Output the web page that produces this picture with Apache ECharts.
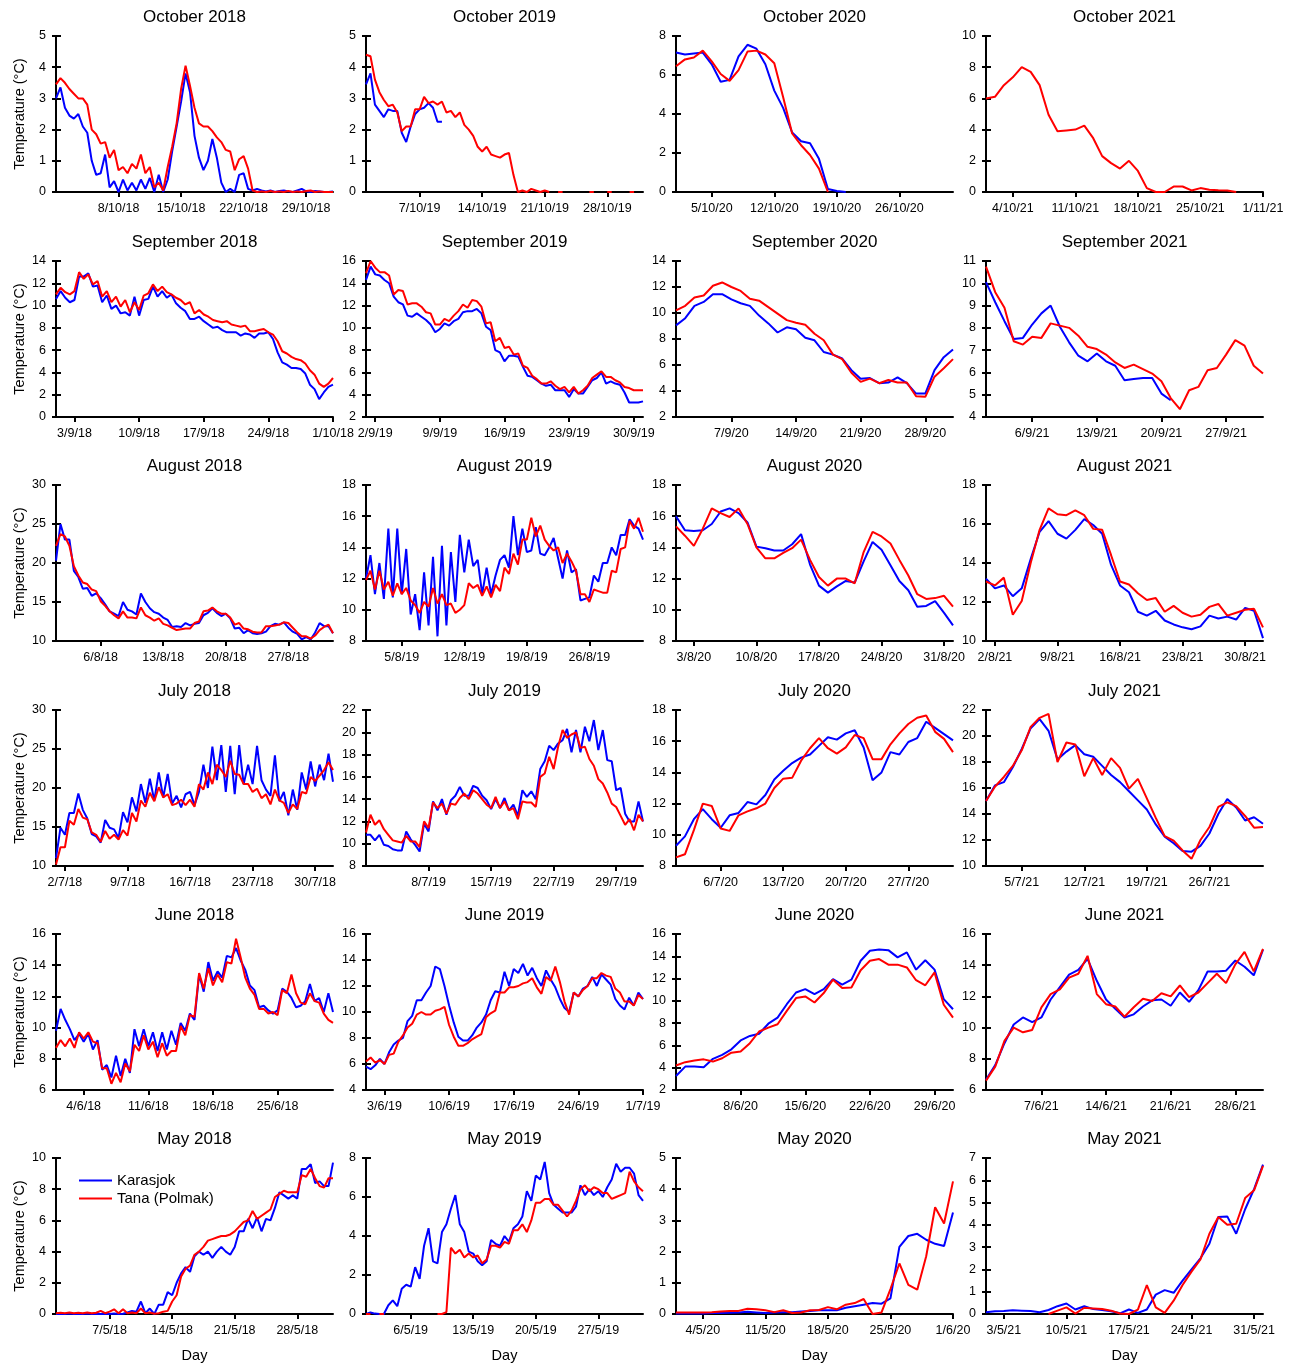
<!DOCTYPE html>
<html>
<head>
<meta charset="utf-8">
<script src="https://cdn.jsdelivr.net/npm/echarts@6/dist/echarts.min.js"></script>
<style>
  html, body { margin: 0; padding: 0; background: #fff; }
  #chart { width: 1290px; height: 1367px; }
</style>
</head>
<body>
<div id="chart"></div>
<script>
// Water temperature (°C), Karasjok and Tana (Polmak).
// 2018/2019 series are sampled every half day, 2020/2021 series once a day.

// ---- October ----
const oct2018Ticks = ['8/10/18', '15/10/18', '22/10/18', '29/10/18'];
const oct2018Karasjok = [3.0, 3.35, 2.7, 2.45, 2.35, 2.5, 2.1, 1.9, 1.0, 0.55, 0.6, 1.2, 0.15, 0.35, 0.0, 0.4, 0.05, 0.3, 0.05, 0.4, 0.1, 0.45, 0.0, 0.55, 0.0, 0.4, 1.3, 2.1, 2.9, 3.8, 3.2, 1.8, 1.1, 0.7, 1.0, 1.7, 1.1, 0.3, 0.0, 0.1, 0.0, 0.55, 0.6, 0.1, 0.05, 0.1, 0.05, 0.02, 0.05, 0.0, 0.03, 0.05, 0.02, 0.0, 0.05, 0.1, 0.02, 0.0, 0.03, 0.02, 0.0, 0.0, 0.02];
const oct2018Tana = [3.45, 3.65, 3.5, 3.3, 3.15, 3.0, 3.0, 2.8, 2.0, 1.85, 1.55, 1.6, 1.1, 1.35, 0.7, 0.8, 0.6, 0.9, 0.75, 1.2, 0.6, 0.8, 0.15, 0.3, 0.05, 0.8, 1.45, 2.2, 3.3, 4.05, 3.4, 2.7, 2.2, 2.1, 2.1, 1.95, 1.75, 1.6, 1.35, 1.3, 0.7, 1.05, 1.15, 0.75, 0.05, 0.0, 0.02, 0.0, 0.03, 0.0, 0.02, 0.0, 0.03, 0.0, 0.02, 0.0, 0.03, 0.05, 0.0, 0.02, 0.0, 0.0, 0.0];

const oct2019Ticks = ['7/10/19', '14/10/19', '21/10/19', '28/10/19'];
const oct2019Karasjok = [3.45, 3.8, 2.8, 2.6, 2.4, 2.65, 2.6, 2.6, 1.9, 1.6, 2.1, 2.5, 2.65, 2.7, 2.85, 2.7, 2.25, 2.25];
const oct2019Tana = [4.4, 4.35, 3.6, 3.2, 2.95, 2.75, 2.8, 2.55, 1.95, 2.1, 2.1, 2.65, 2.65, 3.05, 2.85, 2.9, 2.8, 2.9, 2.55, 2.6, 2.4, 2.55, 2.15, 2.0, 1.8, 1.45, 1.3, 1.45, 1.2, 1.15, 1.1, 1.2, 1.25, 0.55, 0.0, 0.05, 0.0, 0.1, 0.05, 0.0, 0.05, 0.0, null, 0.0, 0.0, null, null, null, null, null, 0.0, 0.0, null, null, 0.0, 0.0, null, null, null, 0.0, 0.0, null, null];

const oct2020Ticks = ['5/10/20', '12/10/20', '19/10/20', '26/10/20'];
const oct2020Karasjok = [7.15, 7.05, 7.1, 7.15, 6.55, 5.65, 5.75, 6.95, 7.55, 7.35, 6.55, 5.2, 4.3, 3.05, 2.6, 2.5, 1.7, 0.15, 0.05, 0.0];
const oct2020Tana = [6.45, 6.8, 6.9, 7.25, 6.7, 6.05, 5.7, 6.25, 7.2, 7.25, 7.05, 6.6, 4.85, 3.0, 2.4, 1.9, 1.2, 0.0];

const oct2021Ticks = ['4/10/21', '11/10/21', '18/10/21', '25/10/21', '1/11/21'];
const oct2021Karasjok = [];
const oct2021Tana = [6.0, 6.1, 6.85, 7.35, 8.0, 7.7, 6.85, 4.95, 3.9, 3.95, 4.0, 4.25, 3.45, 2.3, 1.85, 1.5, 2.0, 1.35, 0.25, 0.0, 0.0, 0.35, 0.35, 0.1, 0.25, 0.15, 0.12, 0.1, 0.0];

// ---- September ----
const sep2018Ticks = ['3/9/18', '10/9/18', '17/9/18', '24/9/18', '1/10/18'];
const sep2018Karasjok = [10.6, 11.3, 10.7, 10.3, 10.5, 12.6, 12.6, 12.9, 11.7, 11.8, 10.3, 10.9, 9.7, 10.0, 9.3, 9.4, 9.1, 10.8, 9.1, 10.5, 10.6, 11.7, 10.8, 11.3, 10.7, 11.0, 10.2, 9.8, 9.5, 8.8, 8.8, 9.0, 8.6, 8.3, 8.0, 8.1, 7.8, 7.6, 7.6, 7.6, 7.3, 7.5, 7.4, 7.1, 7.5, 7.5, 7.6, 7.0, 5.8, 4.9, 4.7, 4.4, 4.4, 4.3, 3.9, 2.9, 2.5, 1.6, 2.2, 2.7, 2.9];
const sep2018Tana = [11.0, 11.6, 11.2, 11.0, 11.3, 13.0, 12.4, 12.8, 11.9, 12.2, 10.8, 11.3, 10.3, 10.8, 9.9, 10.5, 9.4, 10.3, 9.6, 10.9, 11.1, 11.9, 11.3, 11.7, 11.2, 11.0, 10.7, 10.5, 10.1, 10.3, 9.3, 9.6, 9.2, 9.0, 8.7, 8.6, 8.5, 8.6, 8.3, 8.2, 8.1, 8.2, 7.7, 7.7, 7.8, 7.9, 7.6, 7.4, 6.8, 5.9, 5.7, 5.4, 5.2, 5.1, 4.8, 4.2, 3.8, 3.0, 2.7, 3.0, 3.5];

const sep2019Ticks = ['2/9/19', '9/9/19', '16/9/19', '23/9/19', '30/9/19'];
const sep2019Karasjok = [14.3, 15.5, 14.8, 14.7, 14.3, 14.0, 12.8, 12.3, 12.1, 11.1, 11.0, 11.3, 11.0, 10.7, 10.3, 9.6, 9.9, 10.4, 10.2, 10.6, 10.8, 11.4, 11.5, 11.5, 11.7, 11.3, 10.1, 9.8, 8.0, 7.8, 7.0, 7.5, 7.5, 7.4, 6.5, 5.7, 5.6, 5.3, 5.0, 4.8, 4.9, 4.4, 4.4, 4.4, 3.8, 4.5, 4.1, 4.1, 4.7, 5.3, 5.5, 6.0, 5.0, 5.2, 5.0, 4.9, 4.2, 3.3, 3.3, 3.3, 3.4];
const sep2019Tana = [14.9, 16.0, 15.4, 15.0, 15.0, 14.7, 13.0, 13.4, 13.3, 12.1, 12.2, 12.2, 11.9, 11.4, 11.3, 10.3, 10.3, 10.8, 10.6, 11.1, 11.5, 12.1, 11.8, 12.5, 12.4, 11.9, 10.4, 10.5, 8.8, 9.1, 8.2, 8.3, 7.6, 7.7, 6.6, 6.4, 5.7, 5.4, 5.0, 5.0, 5.2, 4.8, 4.5, 4.7, 4.2, 4.7, 4.1, 4.4, 4.8, 5.5, 5.8, 6.1, 5.6, 5.6, 5.3, 5.1, 4.7, 4.6, 4.4, 4.4, 4.4];

const sep2020Ticks = ['7/9/20', '14/9/20', '21/9/20', '28/9/20'];
const sep2020Karasjok = [9.05, 9.6, 10.55, 10.85, 11.45, 11.45, 11.05, 10.75, 10.55, 9.8, 9.2, 8.5, 8.9, 8.75, 8.1, 7.9, 7.0, 6.8, 6.5, 5.6, 4.95, 5.0, 4.6, 4.65, 5.05, 4.6, 3.8, 3.8, 5.6, 6.6, 7.2];
const sep2020Tana = [10.2, 10.55, 11.2, 11.35, 12.1, 12.35, 12.0, 11.7, 11.1, 10.95, 10.45, 9.95, 9.45, 9.25, 9.1, 8.4, 7.9, 6.8, 6.45, 5.4, 4.7, 4.95, 4.6, 4.85, 4.65, 4.65, 3.6, 3.55, 5.1, 5.75, 6.45];

const sep2021Ticks = ['6/9/21', '13/9/21', '20/9/21', '27/9/21'];
const sep2021Karasjok = [10.05, 9.15, 8.3, 7.5, 7.55, 8.15, 8.65, 9.0, 8.05, 7.35, 6.75, 6.5, 6.85, 6.5, 6.3, 5.65, 5.7, 5.75, 5.75, 5.05, 4.75];
const sep2021Tana = [10.75, 9.6, 8.9, 7.4, 7.25, 7.6, 7.55, 8.2, 8.1, 8.0, 7.65, 7.15, 7.05, 6.8, 6.45, 6.2, 6.35, 6.15, 5.95, 5.6, 4.85, 4.35, 5.2, 5.35, 6.1, 6.2, 6.8, 7.45, 7.2, 6.3, 5.95];

// ---- August ----
const aug2018Ticks = ['6/8/18', '13/8/18', '20/8/18', '27/8/18'];
const aug2018Karasjok = [20.3, 25.0, 23.0, 23.0, 19.0, 18.2, 16.7, 16.8, 15.8, 16.1, 15.5, 14.7, 13.8, 13.5, 13.2, 15.0, 14.0, 13.8, 13.4, 16.1, 15.0, 14.2, 13.7, 13.5, 13.0, 12.7, 11.8, 11.9, 11.8, 12.3, 12.0, 12.2, 12.3, 13.3, 13.6, 14.2, 13.6, 13.2, 13.5, 12.9, 11.6, 11.7, 11.0, 11.4, 11.0, 10.9, 11.0, 11.2, 11.9, 12.2, 12.1, 12.4, 11.7, 11.2, 10.9, 10.2, 10.5, 10.2, 11.1, 12.3, 11.9, 11.9, 11.0];
const aug2018Tana = [22.2, 23.7, 23.4, 22.2, 19.6, 18.4, 17.5, 17.3, 16.6, 16.4, 15.1, 14.5, 13.8, 13.3, 12.9, 13.8, 13.0, 13.0, 12.9, 14.3, 13.3, 13.0, 12.6, 12.9, 12.2, 12.0, 11.7, 11.4, 11.5, 11.6, 11.6, 12.3, 12.5, 13.8, 13.9, 14.3, 13.8, 13.5, 13.5, 13.0, 12.1, 12.3, 11.6, 11.5, 11.2, 11.1, 11.1, 11.9, 11.9, 12.0, 12.1, 12.4, 12.3, 11.7, 11.1, 10.6, 10.6, 10.3, 10.7, 11.4, 11.8, 12.1, 11.0];

const aug2019Ticks = ['5/8/19', '12/8/19', '19/8/19', '26/8/19'];
const aug2019Karasjok = [12.0, 13.5, 11.0, 13.0, 10.7, 15.2, 10.8, 15.2, 11.0, 13.9, 9.7, 11.0, 8.7, 12.4, 9.0, 13.4, 8.3, 14.1, 9.0, 13.7, 10.5, 14.8, 12.4, 14.5, 12.8, 13.2, 11.0, 12.7, 11.0, 12.2, 13.2, 13.5, 12.7, 16.0, 13.5, 15.2, 13.7, 13.8, 15.3, 13.6, 13.5, 14.0, 14.6, 13.3, 12.0, 13.8, 12.4, 12.6, 10.6, 10.7, 10.8, 12.2, 11.8, 13.0, 13.0, 14.0, 13.5, 14.8, 14.8, 15.8, 15.4, 15.2, 14.5];
const aug2019Tana = [11.9, 12.5, 11.3, 12.5, 11.3, 11.8, 10.9, 11.7, 11.0, 11.4, 10.6, 10.3, 9.8, 10.5, 10.2, 11.4, 10.4, 11.0, 10.3, 10.4, 9.8, 10.0, 10.3, 11.7, 11.4, 11.6, 10.9, 11.5, 10.8, 11.6, 11.2, 12.7, 12.3, 13.6, 12.9, 14.5, 14.5, 15.9, 14.7, 15.4, 14.5, 14.1, 13.8, 14.0, 13.0, 13.6, 13.1, 12.5, 11.0, 11.0, 10.5, 11.3, 11.2, 11.1, 11.1, 12.5, 12.4, 13.9, 14.0, 15.7, 15.2, 15.9, 15.0];

const aug2020Ticks = ['3/8/20', '10/8/20', '17/8/20', '24/8/20', '31/8/20'];
const aug2020Karasjok = [16.0, 15.1, 15.05, 15.1, 15.5, 16.3, 16.5, 16.2, 15.6, 14.05, 13.95, 13.8, 13.8, 14.2, 14.85, 12.9, 11.55, 11.1, 11.5, 11.85, 11.75, 13.1, 14.35, 13.85, 12.85, 11.85, 11.25, 10.2, 10.25, 10.55, 9.8, 9.0];
const aug2020Tana = [15.35, 14.75, 14.1, 15.2, 16.5, 16.2, 15.95, 16.5, 15.5, 14.0, 13.3, 13.3, 13.65, 13.95, 14.5, 13.2, 12.1, 11.55, 12.0, 12.0, 11.7, 13.7, 15.0, 14.7, 14.25, 13.2, 12.2, 11.0, 10.7, 10.75, 10.9, 10.2];

const aug2021Ticks = ['2/8/21', '9/8/21', '16/8/21', '23/8/21', '30/8/21'];
const aug2021Karasjok = [13.2, 12.7, 12.85, 12.3, 12.7, 14.2, 15.6, 16.15, 15.5, 15.25, 15.7, 16.25, 15.95, 15.5, 13.9, 12.85, 12.5, 11.5, 11.3, 11.55, 11.05, 10.85, 10.7, 10.6, 10.75, 11.3, 11.15, 11.25, 11.1, 11.7, 11.55, 10.15];
const aug2021Tana = [13.05, 12.85, 13.25, 11.35, 12.05, 14.0, 15.7, 16.8, 16.5, 16.45, 16.7, 16.45, 15.75, 15.7, 14.4, 13.05, 12.9, 12.45, 12.1, 12.2, 11.5, 11.8, 11.45, 11.25, 11.35, 11.75, 11.9, 11.3, 11.45, 11.6, 11.65, 10.7];

// ---- July ----
const jul2018Ticks = ['2/7/18', '9/7/18', '16/7/18', '23/7/18', '30/7/18'];
const jul2018Karasjok = [11.0, 14.9, 14.0, 16.8, 16.8, 19.3, 17.2, 16.1, 14.1, 13.8, 13.0, 15.9, 14.9, 14.7, 13.6, 16.9, 15.6, 18.8, 17.0, 20.5, 18.1, 21.2, 18.4, 22.0, 18.8, 21.8, 18.0, 19.0, 17.5, 19.2, 19.5, 17.8, 19.5, 23.0, 20.0, 25.3, 21.0, 25.5, 19.5, 25.4, 19.2, 25.5, 20.5, 23.0, 20.5, 25.4, 21.0, 19.8, 19.0, 24.2, 18.3, 19.5, 16.5, 19.8, 17.2, 22.0, 19.8, 23.4, 20.2, 23.0, 21.0, 24.4, 20.8];
const jul2018Tana = [10.2, 12.4, 12.4, 15.8, 15.3, 17.3, 16.2, 16.0, 14.3, 14.0, 13.1, 14.5, 13.5, 14.0, 13.4, 14.6, 13.9, 16.8, 15.7, 18.4, 17.6, 19.4, 18.3, 20.1, 18.8, 19.2, 17.8, 18.0, 18.5, 17.8, 18.5, 17.6, 20.5, 19.8, 22.0, 20.5, 23.0, 22.3, 21.4, 23.5, 21.8, 21.7, 20.5, 20.5, 19.5, 19.9, 18.7, 19.2, 17.9, 19.8, 18.4, 18.1, 16.8, 17.9, 17.3, 19.5, 19.3, 21.4, 20.9, 21.6, 22.3, 23.3, 22.3];

const jul2019Ticks = ['8/7/19', '15/7/19', '22/7/19', '29/7/19'];
const jul2019Karasjok = [10.8, 10.8, 10.3, 10.8, 9.9, 9.8, 9.5, 9.4, 9.4, 11.1, 10.4, 9.9, 9.3, 11.8, 11.1, 13.8, 13.0, 14.0, 12.6, 13.9, 14.3, 15.1, 14.3, 14.3, 15.2, 15.0, 14.3, 13.9, 13.1, 14.0, 13.2, 14.1, 13.0, 13.5, 12.5, 14.8, 14.2, 14.7, 14.0, 16.7, 17.4, 18.8, 18.4, 19.0, 19.3, 20.3, 18.2, 20.2, 18.2, 20.5, 19.2, 21.1, 18.4, 20.2, 17.5, 17.4, 14.8, 15.0, 12.7, 12.0, 12.0, 13.8, 12.0];
const jul2019Tana = [11.0, 12.6, 11.7, 12.1, 11.3, 10.8, 10.3, 10.2, 10.1, 10.7, 10.2, 10.2, 9.7, 12.0, 11.4, 13.7, 13.2, 13.6, 12.7, 13.6, 13.5, 14.1, 14.5, 14.0, 14.8, 14.5, 14.0, 13.5, 13.2, 14.2, 13.2, 13.8, 13.0, 13.2, 12.2, 13.8, 13.7, 13.7, 13.3, 16.0, 16.3, 17.8, 16.7, 18.7, 20.2, 19.5, 19.8, 20.0, 18.6, 18.7, 17.6, 17.0, 15.8, 15.4, 14.6, 13.6, 13.3, 12.5, 11.7, 12.2, 11.2, 12.6, 12.0];

const jul2020Ticks = ['6/7/20', '13/7/20', '20/7/20', '27/7/20'];
const jul2020Karasjok = [9.3, 9.9, 11.0, 11.65, 11.0, 10.45, 11.25, 11.4, 12.1, 11.95, 12.55, 13.55, 14.1, 14.6, 14.95, 15.15, 15.7, 16.25, 16.1, 16.5, 16.7, 15.6, 13.5, 14.0, 15.3, 15.15, 15.95, 16.2, 17.25, 16.85, 16.45, 16.05];
const jul2020Tana = [8.55, 8.75, 10.3, 12.0, 11.85, 10.4, 10.25, 11.25, 11.5, 11.7, 12.0, 13.0, 13.6, 13.65, 14.75, 15.55, 16.2, 15.55, 15.2, 15.6, 16.4, 16.2, 14.85, 14.85, 15.8, 16.5, 17.1, 17.5, 17.65, 16.6, 16.15, 15.3];

const jul2021Ticks = ['5/7/21', '12/7/21', '19/7/21', '26/7/21'];
const jul2021Karasjok = [15.0, 16.2, 16.45, 17.6, 19.0, 20.6, 21.3, 20.4, 18.2, 18.8, 19.3, 18.6, 18.4, 17.7, 17.0, 16.45, 15.75, 15.05, 14.35, 13.2, 12.25, 11.75, 11.15, 11.1, 11.55, 12.5, 14.0, 15.15, 14.5, 13.5, 13.75, 13.25];
const jul2021Tana = [15.0, 16.1, 16.85, 17.7, 18.9, 20.7, 21.4, 21.7, 18.0, 19.5, 19.35, 16.9, 18.3, 17.0, 18.3, 17.55, 15.95, 16.7, 15.2, 13.7, 12.3, 11.95, 11.2, 10.55, 12.0, 13.0, 14.55, 14.9, 14.6, 13.85, 12.95, 13.0];

// ---- June ----
const jun2018Ticks = ['4/6/18', '11/6/18', '18/6/18', '25/6/18'];
const jun2018Karasjok = [9.8, 11.2, 10.5, 9.9, 9.2, 9.6, 9.1, 9.6, 8.6, 9.2, 7.3, 7.6, 6.8, 8.2, 6.9, 8.0, 7.1, 9.9, 8.8, 9.9, 8.8, 9.7, 8.5, 9.7, 8.6, 9.8, 8.9, 10.3, 9.8, 10.9, 10.5, 13.4, 12.3, 14.2, 13.0, 13.6, 13.2, 14.6, 14.5, 15.1, 14.3, 13.7, 12.7, 12.4, 11.3, 11.4, 11.1, 10.9, 11.1, 12.5, 12.3, 11.9, 11.3, 11.4, 11.7, 12.8, 11.7, 11.9, 11.0, 12.2, 11.0];
const jun2018Tana = [8.7, 9.2, 8.8, 9.3, 8.7, 9.7, 9.3, 9.7, 9.1, 9.0, 7.4, 7.4, 6.4, 7.1, 6.5, 7.7, 7.2, 8.9, 8.5, 9.5, 8.6, 9.1, 8.1, 9.0, 8.2, 8.5, 8.5, 10.1, 9.5, 10.8, 10.7, 13.5, 12.5, 13.8, 12.7, 13.4, 12.9, 14.2, 14.1, 15.7, 14.5, 13.2, 12.5, 12.1, 11.2, 11.2, 10.9, 11.0, 10.8, 12.4, 12.2, 13.4, 12.2, 11.6, 11.5, 12.2, 11.7, 11.6, 10.9, 10.5, 10.3];

const jun2019Ticks = ['3/6/19', '10/6/19', '17/6/19', '24/6/19', '1/7/19'];
const jun2019Karasjok = [5.8, 5.6, 5.9, 6.4, 6.0, 6.9, 7.5, 7.8, 8.0, 9.3, 9.7, 10.9, 10.9, 11.5, 12.0, 13.5, 13.3, 12.0, 10.5, 9.2, 8.1, 7.8, 7.8, 8.2, 8.8, 9.2, 9.8, 10.9, 11.6, 11.5, 13.1, 12.0, 13.3, 13.0, 13.7, 12.8, 13.4, 12.6, 12.0, 13.2, 12.5, 11.9, 11.0, 10.3, 10.0, 11.5, 11.2, 11.8, 12.0, 12.7, 12.0, 12.9, 12.5, 12.1, 11.0, 10.5, 10.2, 11.1, 10.5, 11.5, 11.0];
const jun2019Tana = [6.2, 6.5, 6.1, 6.3, 6.0, 6.7, 6.8, 7.7, 8.2, 8.8, 9.1, 9.8, 10.0, 9.8, 9.8, 10.1, 10.2, 10.4, 9.0, 8.1, 7.4, 7.4, 7.6, 7.9, 8.1, 8.3, 9.6, 9.9, 10.1, 11.5, 11.5, 11.9, 11.9, 12.0, 12.2, 12.3, 12.6, 11.9, 11.4, 12.7, 12.4, 13.5, 12.3, 10.8, 9.8, 11.5, 11.2, 11.7, 12.0, 12.6, 12.6, 13.0, 12.8, 12.7, 11.8, 11.5, 10.8, 10.8, 10.5, 11.3, 11.0];

const jun2020Ticks = ['8/6/20', '15/6/20', '22/6/20', '29/6/20'];
const jun2020Karasjok = [3.25, 4.1, 4.1, 4.05, 4.8, 5.15, 5.65, 6.45, 6.85, 7.05, 7.95, 8.5, 9.7, 10.75, 11.05, 10.6, 11.05, 11.95, 11.45, 11.9, 13.6, 14.5, 14.6, 14.55, 13.9, 14.35, 12.8, 13.65, 12.8, 10.15, 9.25];
const jun2020Tana = [4.2, 4.5, 4.65, 4.75, 4.55, 4.85, 5.35, 5.45, 6.2, 7.25, 7.6, 7.9, 9.1, 10.25, 10.4, 9.85, 10.7, 11.9, 11.15, 11.2, 12.75, 13.6, 13.75, 13.25, 13.25, 13.0, 11.85, 11.4, 12.55, 9.65, 8.5];

const jun2021Ticks = ['7/6/21', '14/6/21', '21/6/21', '28/6/21'];
const jun2021Karasjok = [6.65, 7.6, 9.0, 10.2, 10.65, 10.35, 10.65, 11.8, 12.6, 13.4, 13.7, 14.4, 13.0, 11.8, 11.2, 10.65, 10.85, 11.35, 11.75, 11.8, 11.4, 12.25, 11.65, 12.4, 13.6, 13.6, 13.65, 14.3, 13.9, 13.35, 15.0];
const jun2021Tana = [6.6, 7.5, 9.15, 10.0, 9.7, 9.85, 11.3, 12.15, 12.45, 13.2, 13.45, 14.6, 12.15, 11.5, 11.35, 10.7, 11.3, 11.85, 11.7, 12.2, 12.0, 12.7, 11.95, 12.25, 12.85, 13.45, 12.85, 14.05, 14.85, 13.6, 15.05];

// ---- May ----
const may2018Ticks = ['7/5/18', '14/5/18', '21/5/18', '28/5/18'];
const may2018Karasjok = [0.0, 0.02, 0.0, 0.03, 0.0, 0.02, 0.0, 0.03, 0.0, 0.02, 0.0, 0.02, 0.0, 0.03, 0.0, 0.02, 0.1, 0.2, 0.15, 0.8, 0.05, 0.35, 0.0, 0.6, 0.6, 1.4, 1.2, 2.0, 2.6, 3.0, 2.7, 3.7, 4.0, 3.8, 4.0, 3.6, 4.0, 4.3, 4.0, 3.8, 4.3, 5.3, 5.3, 6.1, 5.5, 6.2, 5.3, 6.1, 6.0, 6.8, 7.8, 7.6, 7.4, 7.6, 7.4, 9.3, 9.3, 9.6, 8.4, 8.5, 8.2, 8.2, 9.7];
const may2018Tana = [0.05, 0.08, 0.05, 0.1, 0.05, 0.08, 0.05, 0.1, 0.05, 0.08, 0.2, 0.05, 0.15, 0.3, 0.05, 0.3, 0.05, 0.1, 0.05, 0.35, 0.05, 0.1, 0.02, 0.05, 0.15, 0.2, 0.8, 1.2, 2.4, 2.9, 3.1, 3.8, 4.0, 4.3, 4.7, 4.8, 4.9, 5.0, 5.0, 5.1, 5.3, 5.6, 5.9, 6.0, 6.6, 6.1, 6.3, 6.5, 6.7, 7.5, 7.7, 7.9, 7.8, 7.8, 7.8, 8.9, 8.8, 9.3, 8.7, 8.2, 8.1, 8.7, 8.7];

const may2019Ticks = ['6/5/19', '13/5/19', '20/5/19', '27/5/19'];
const may2019Karasjok = [0.0, 0.08, 0.02, 0.0, 0.0, 0.45, 0.7, 0.4, 1.3, 1.5, 1.4, 2.4, 1.8, 3.5, 4.4, 2.7, 2.6, 4.2, 4.6, 5.4, 6.1, 4.6, 4.2, 3.2, 3.1, 2.7, 2.5, 2.7, 3.8, 3.6, 3.5, 4.0, 3.7, 4.4, 4.6, 5.0, 6.3, 5.8, 7.1, 6.9, 7.8, 6.2, 5.6, 5.4, 5.2, 5.2, 5.2, 5.5, 6.6, 6.1, 6.4, 6.1, 6.3, 6.0, 6.5, 6.9, 7.7, 7.3, 7.5, 7.5, 7.2, 6.1, 5.8];
const may2019Tana = [0.0, 0.0, null, 0.0, 0.0, null, null, null, null, null, null, null, null, null, null, null, 0.0, 0.0, 0.1, 3.4, 3.1, 3.3, 2.9, 3.1, 2.9, 3.0, 2.6, 2.8, 3.5, 3.5, 3.4, 3.7, 3.6, 4.3, 4.3, 4.6, 4.2, 4.8, 5.7, 5.7, 5.9, 5.9, 5.6, 5.6, 5.3, 5.0, 5.3, 5.8, 6.4, 6.6, 6.3, 6.5, 6.4, 6.2, 6.2, 5.9, 6.0, 6.1, 6.2, 7.3, 6.8, 6.5, 6.3];

const may2020Ticks = ['4/5/20', '11/5/20', '18/5/20', '25/5/20', '1/6/20'];
const may2020Karasjok = [0.02, 0.02, 0.02, 0.02, 0.03, 0.03, 0.04, 0.05, 0.07, 0.05, 0.03, 0.05, 0.06, 0.06, 0.08, 0.1, 0.12, 0.12, 0.12, 0.2, 0.25, 0.3, 0.35, 0.33, 0.5, 2.15, 2.5, 2.57, 2.38, 2.25, 2.18, 3.25];
const may2020Tana = [0.05, 0.05, 0.05, 0.05, 0.06, 0.08, 0.1, 0.1, 0.17, 0.15, 0.12, 0.06, 0.12, 0.03, 0.05, 0.12, 0.13, 0.22, 0.15, 0.3, 0.35, 0.48, 0.0, 0.05, 0.8, 1.62, 0.93, 0.78, 1.85, 3.42, 2.9, 4.25];

const may2021Ticks = ['3/5/21', '10/5/21', '17/5/21', '24/5/21', '31/5/21'];
const may2021Karasjok = [0.08, 0.12, 0.13, 0.17, 0.15, 0.13, 0.08, 0.18, 0.35, 0.47, 0.2, 0.35, 0.22, 0.18, 0.12, 0.03, 0.2, 0.05, 0.2, 0.87, 1.07, 0.95, 1.5, 2.0, 2.5, 3.15, 4.35, 4.38, 3.6, 4.7, 5.6, 6.7];
const may2021Tana = [null, null, null, null, null, null, null, 0.0, 0.15, 0.3, 0.02, 0.28, 0.25, 0.22, 0.15, 0.02, 0.0, 0.2, 1.3, 0.3, 0.05, 0.6, 1.3, 1.9, 2.45, 3.6, 4.35, 4.0, 4.05, 5.2, 5.55, 6.65];

// Panel list, row by row (months) and column by column (years).
const panels = [
  { title: 'October 2018', year: 2018, month: 10, yMin: 0, yMax: 5, yStep: 1, step: 0.5, ticks: oct2018Ticks, karasjok: oct2018Karasjok, tana: oct2018Tana },
  { title: 'October 2019', year: 2019, month: 10, yMin: 0, yMax: 5, yStep: 1, step: 0.5, ticks: oct2019Ticks, karasjok: oct2019Karasjok, tana: oct2019Tana },
  { title: 'October 2020', year: 2020, month: 10, yMin: 0, yMax: 8, yStep: 2, step: 1, ticks: oct2020Ticks, karasjok: oct2020Karasjok, tana: oct2020Tana },
  { title: 'October 2021', year: 2021, month: 10, yMin: 0, yMax: 10, yStep: 2, step: 1, ticks: oct2021Ticks, karasjok: oct2021Karasjok, tana: oct2021Tana },
  { title: 'September 2018', year: 2018, month: 9, yMin: 0, yMax: 14, yStep: 2, step: 0.5, ticks: sep2018Ticks, karasjok: sep2018Karasjok, tana: sep2018Tana },
  { title: 'September 2019', year: 2019, month: 9, yMin: 2, yMax: 16, yStep: 2, step: 0.5, ticks: sep2019Ticks, karasjok: sep2019Karasjok, tana: sep2019Tana },
  { title: 'September 2020', year: 2020, month: 9, yMin: 2, yMax: 14, yStep: 2, step: 1, ticks: sep2020Ticks, karasjok: sep2020Karasjok, tana: sep2020Tana },
  { title: 'September 2021', year: 2021, month: 9, yMin: 4, yMax: 11, yStep: 1, step: 1, ticks: sep2021Ticks, karasjok: sep2021Karasjok, tana: sep2021Tana },
  { title: 'August 2018', year: 2018, month: 8, yMin: 10, yMax: 30, yStep: 5, step: 0.5, ticks: aug2018Ticks, karasjok: aug2018Karasjok, tana: aug2018Tana },
  { title: 'August 2019', year: 2019, month: 8, yMin: 8, yMax: 18, yStep: 2, step: 0.5, ticks: aug2019Ticks, karasjok: aug2019Karasjok, tana: aug2019Tana },
  { title: 'August 2020', year: 2020, month: 8, yMin: 8, yMax: 18, yStep: 2, step: 1, ticks: aug2020Ticks, karasjok: aug2020Karasjok, tana: aug2020Tana },
  { title: 'August 2021', year: 2021, month: 8, yMin: 10, yMax: 18, yStep: 2, step: 1, ticks: aug2021Ticks, karasjok: aug2021Karasjok, tana: aug2021Tana },
  { title: 'July 2018', year: 2018, month: 7, yMin: 10, yMax: 30, yStep: 5, step: 0.5, ticks: jul2018Ticks, karasjok: jul2018Karasjok, tana: jul2018Tana },
  { title: 'July 2019', year: 2019, month: 7, yMin: 8, yMax: 22, yStep: 2, step: 0.5, ticks: jul2019Ticks, karasjok: jul2019Karasjok, tana: jul2019Tana },
  { title: 'July 2020', year: 2020, month: 7, yMin: 8, yMax: 18, yStep: 2, step: 1, ticks: jul2020Ticks, karasjok: jul2020Karasjok, tana: jul2020Tana },
  { title: 'July 2021', year: 2021, month: 7, yMin: 10, yMax: 22, yStep: 2, step: 1, ticks: jul2021Ticks, karasjok: jul2021Karasjok, tana: jul2021Tana },
  { title: 'June 2018', year: 2018, month: 6, yMin: 6, yMax: 16, yStep: 2, step: 0.5, ticks: jun2018Ticks, karasjok: jun2018Karasjok, tana: jun2018Tana },
  { title: 'June 2019', year: 2019, month: 6, yMin: 4, yMax: 16, yStep: 2, step: 0.5, ticks: jun2019Ticks, karasjok: jun2019Karasjok, tana: jun2019Tana },
  { title: 'June 2020', year: 2020, month: 6, yMin: 2, yMax: 16, yStep: 2, step: 1, ticks: jun2020Ticks, karasjok: jun2020Karasjok, tana: jun2020Tana },
  { title: 'June 2021', year: 2021, month: 6, yMin: 6, yMax: 16, yStep: 2, step: 1, ticks: jun2021Ticks, karasjok: jun2021Karasjok, tana: jun2021Tana },
  { title: 'May 2018', year: 2018, month: 5, yMin: 0, yMax: 10, yStep: 2, step: 0.5, ticks: may2018Ticks, karasjok: may2018Karasjok, tana: may2018Tana },
  { title: 'May 2019', year: 2019, month: 5, yMin: 0, yMax: 8, yStep: 2, step: 0.5, ticks: may2019Ticks, karasjok: may2019Karasjok, tana: may2019Tana },
  { title: 'May 2020', year: 2020, month: 5, yMin: 0, yMax: 5, yStep: 1, step: 1, ticks: may2020Ticks, karasjok: may2020Karasjok, tana: may2020Tana },
  { title: 'May 2021', year: 2021, month: 5, yMin: 0, yMax: 7, yStep: 1, step: 1, ticks: may2021Ticks, karasjok: may2021Karasjok, tana: may2021Tana }
];

const FONT = '"Liberation Sans", Arial, Helvetica, sans-serif';
const BLUE = '#0000ff';
const RED = '#ff0000';
const colLeft = [56, 366, 676, 986];
const rowTop = [36, 261, 485, 710, 934, 1158];
const plotW = 277;
const plotH = 156;

function daysIn(year, month) { return new Date(year, month, 0).getDate(); }
// Day offset from the 1st of the panel's month (00:00) for a 'd/m/yy' label.
function tickPos(label, p) {
  const parts = label.split('/').map(Number);
  const d = parts[0], m = parts[1];
  return m === p.month ? d - 1 : daysIn(p.year, p.month) + d - 1;
}
function toPairs(values, step) {
  return values.map((v, i) => [i * step, v === null ? '-' : v]);
}

const grids = [], xAxes = [], yAxes = [], series = [], graphics = [];

panels.forEach((p, i) => {
  const r = Math.floor(i / 4), c = i % 4;
  const days = daysIn(p.year, p.month);
  const tickVals = p.ticks.map(l => tickPos(l, p));
  const labelAt = {};
  p.ticks.forEach((l, j) => { labelAt[tickVals[j]] = l; });

  grids.push({ left: colLeft[c], top: rowTop[r], width: plotW, height: plotH, containLabel: false, outerBoundsMode: 'none' });

  xAxes.push({
    type: 'value', gridIndex: i, min: 0, max: days,
    axisLine: { show: true, onZero: false, lineStyle: { color: '#000', width: 2 } },
    axisTick: { show: true, customValues: tickVals, length: 5, lineStyle: { color: '#000', width: 2 } },
    axisLabel: { show: true, customValues: tickVals, formatter: v => labelAt[v] || '', margin: 10,
                 fontSize: 12.5, color: '#000', fontFamily: FONT },
    splitLine: { show: false }
  });

  // main y axis: line, labels and the inner half of each tick
  yAxes.push({
    type: 'value', gridIndex: i, position: 'left', min: p.yMin, max: p.yMax, interval: p.yStep,
    axisLine: { show: true, onZero: false, lineStyle: { color: '#000', width: 2 } },
    axisTick: { show: true, inside: true, length: 5, lineStyle: { color: '#000', width: 2 } },
    axisLabel: { show: true, margin: 10, fontSize: 12.5, color: '#000', fontFamily: FONT },
    splitLine: { show: false }
  });
  // companion axis: outer half of each tick
  yAxes.push({
    type: 'value', gridIndex: i, position: 'left', offset: 0, min: p.yMin, max: p.yMax, interval: p.yStep,
    axisLine: { show: false },
    axisTick: { show: true, inside: false, length: 4, lineStyle: { color: '#000', width: 2 } },
    axisLabel: { show: false },
    splitLine: { show: false }
  });

  const common = { type: 'line', xAxisIndex: i, yAxisIndex: 2 * i, showSymbol: false, symbol: 'none',
                   connectNulls: false, animation: false, silent: true };
  if (p.karasjok.length) {
    series.push(Object.assign({}, common, { name: 'Karasjok', data: toPairs(p.karasjok, p.step),
      lineStyle: { color: BLUE, width: 2 }, itemStyle: { color: BLUE }, z: 2 }));
  }
  series.push(Object.assign({}, common, { name: 'Tana (Polmak)', data: toPairs(p.tana, p.step),
    lineStyle: { color: RED, width: 2 }, itemStyle: { color: RED }, z: 3 }));

  graphics.push({
    type: 'text', x: colLeft[c] + plotW / 2, y: rowTop[r] - 19,
    style: { text: p.title, font: '17px ' + FONT, fill: '#000', textAlign: 'center', textVerticalAlign: 'middle' }
  });
});

rowTop.forEach(t => {
  graphics.push({
    type: 'text', x: 20, y: t + plotH / 2, rotation: Math.PI / 2,
    style: { text: 'Temperature (°C)', font: '14.5px ' + FONT, fill: '#000', textAlign: 'center', textVerticalAlign: 'middle' }
  });
});
colLeft.forEach(l => {
  graphics.push({
    type: 'text', x: l + plotW / 2, y: 1356,
    style: { text: 'Day', font: '14.5px ' + FONT, fill: '#000', textAlign: 'center', textVerticalAlign: 'middle' }
  });
});

const chart = echarts.init(document.getElementById('chart'), null, { renderer: 'canvas' });
chart.setOption({
  backgroundColor: '#ffffff',
  animation: false,
  grid: grids,
  xAxis: xAxes,
  yAxis: yAxes,
  series: series,
  legend: {
    data: ['Karasjok', 'Tana (Polmak)'],
    orient: 'vertical', left: 79, top: 1173, padding: 0,
    icon: 'rect', itemWidth: 33, itemHeight: 2, itemGap: 3,
    selectedMode: false,
    textStyle: { fontSize: 15, color: '#000', fontFamily: FONT }
  },
  graphic: graphics
});
</script>
</body>
</html>
